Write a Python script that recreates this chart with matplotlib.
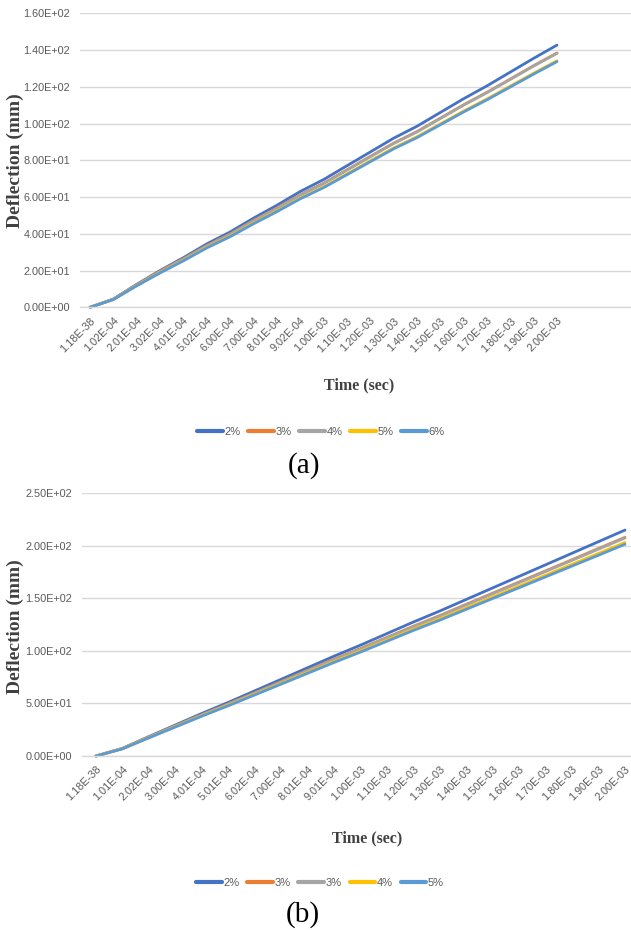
import matplotlib
matplotlib.use("Agg")
import matplotlib.pyplot as plt
from matplotlib.ticker import FormatStrFormatter

W, H = 631, 931
fig = plt.figure(figsize=(W / 100, H / 100), dpi=100)

colors = ["#4472C4", "#ED7D31", "#A5A5A5", "#FFC000", "#5B9BD5"]

# ---------------- data (a) ----------------
labels_a = ["1.18E-38", "1.02E-04", "2.01E-04", "3.02E-04", "4.01E-04", "5.02E-04",
            "6.00E-04", "7.00E-04", "8.01E-04", "9.02E-04", "1.00E-03", "1.10E-03",
            "1.20E-03", "1.30E-03", "1.40E-03", "1.50E-03", "1.60E-03", "1.70E-03",
            "1.80E-03", "1.90E-03", "2.00E-03"]
series_names_a = ["2%", "3%", "4%", "5%", "6%"]
a_2 = [0, 4.5, 12.5, 20.0, 27.0, 34.5, 41.0, 48.5, 55.5, 63.0, 69.5, 77.0, 84.5, 92.0,
       98.5, 106.0, 113.5, 120.5, 128.0, 135.5, 142.7]
a_3 = [0, 4.4, 12.2, 19.6, 26.4, 33.6, 39.9, 47.2, 54.0, 61.2, 67.5, 74.8, 82.1, 89.3,
       95.6, 102.9, 110.2, 117.0, 124.2, 131.5, 138.4]
a_4 = [0, 4.4, 12.1, 19.4, 26.2, 33.4, 39.7, 47.0, 53.8, 61.0, 67.3, 74.6, 81.9, 89.1,
       95.4, 102.7, 110.0, 116.8, 124.0, 131.3, 138.2]
a_5 = [0, 4.2, 11.8, 18.9, 25.5, 32.6, 38.7, 45.8, 52.4, 59.4, 65.5, 72.6, 79.7, 86.7,
       92.8, 99.8, 106.8, 113.4, 120.4, 127.4, 134.2]
a_6 = [0, 4.2, 11.7, 18.7, 25.3, 32.3, 38.4, 45.4, 52.0, 59.0, 65.1, 72.1, 79.2, 86.2,
       92.3, 99.3, 106.3, 112.9, 119.9, 126.9, 133.7]
yticks_a = [0, 20, 40, 60, 80, 100, 120, 140, 160]

# ---------------- data (b) ----------------
labels_b = ["1.18E-38", "1.01E-04", "2.02E-04", "3.00E-04", "4.01E-04", "5.01E-04",
            "6.02E-04", "7.00E-04", "8.01E-04", "9.01E-04", "1.00E-03", "1.10E-03",
            "1.20E-03", "1.30E-03", "1.40E-03", "1.50E-03", "1.60E-03", "1.70E-03",
            "1.80E-03", "1.90E-03", "2.00E-03"]
series_names_b = ["2%", "3%", "3%", "4%", "5%"]
b_1 = [0, 7.3, 18.5, 29.5, 40.5, 51.0, 62.0, 73.0, 84.0, 95.0, 105.5, 116.5, 127.5, 138.0,
       149.0, 160.0, 171.0, 182.0, 193.0, 204.0, 215.0]
b_2 = [0, 7.1, 18.0, 28.7, 39.3, 49.5, 60.1, 70.8, 81.5, 92.1, 102.3, 112.9, 123.5, 133.7,
       144.4, 155.0, 165.6, 176.2, 186.8, 197.5, 208.1]
b_3 = [0, 7.1, 17.9, 28.5, 39.1, 49.2, 59.8, 70.4, 81.1, 91.7, 101.8, 112.4, 123.0, 133.2,
       143.8, 154.4, 165.0, 175.6, 186.2, 196.9, 207.5]
b_4 = [0, 6.9, 17.5, 27.9, 38.3, 48.4, 58.7, 69.1, 79.5, 89.9, 99.9, 110.3, 120.7, 130.6,
       141.0, 151.4, 161.8, 172.1, 182.5, 192.8, 203.2]
b_5 = [0, 6.8, 17.3, 27.6, 37.9, 47.8, 58.1, 68.4, 78.7, 89.0, 98.9, 109.2, 119.5, 129.3,
       139.6, 149.9, 160.2, 170.5, 180.8, 191.1, 201.5]
yticks_b = [0, 50, 100, 150, 200, 250]

narrow = ["Liberation Sans Narrow", "Liberation Sans", "DejaVu Sans"]
serif = ["Liberation Serif", "DejaVu Serif"]
tick_color = "#595959"
grid_color = "#D9D9D9"


def px_axes(left, top, right, bottom):
    return fig.add_axes([left / W, 1 - bottom / H, (right - left) / W, (bottom - top) / H])


def make_panel(ax, labels, series, names, yticks, x0_px, x20_px, left_px, right_px,
               ylabel_xy, xlabel_xy, legend_xy, tag, tag_xy):
    x = list(range(len(labels)))
    for vals, name, c in zip(series, names, colors):
        ax.plot(x, vals, color=c, lw=2.0, label=name, solid_capstyle="round", clip_on=False)
    step = (x20_px - x0_px) / (len(labels) - 1)
    ax.set_xlim(-(x0_px - left_px) / step, (len(labels) - 1) + (right_px - x20_px) / step)
    ax.set_ylim(yticks[0], yticks[-1])
    ax.set_yticks(yticks)
    ax.yaxis.set_major_formatter(FormatStrFormatter("%.2E"))
    ax.set_xticks(x)
    ax.set_xticklabels(labels, rotation=45, ha="right", va="top", rotation_mode="anchor")
    for lab in ax.get_xticklabels() + ax.get_yticklabels():
        lab.set_family(narrow)
        lab.set_fontsize(7.8)
        lab.set_color(tick_color)
    ax.tick_params(axis="both", length=0)
    ax.tick_params(axis="y", pad=7)
    ax.tick_params(axis="x", pad=6)
    ax.grid(axis="y", color=grid_color, lw=1.0)
    ax.set_axisbelow(True)
    for s in ["top", "right", "left"]:
        ax.spines[s].set_visible(False)
    ax.spines["bottom"].set_color(grid_color)
    ax.spines["bottom"].set_linewidth(1.0)
    fig.text(ylabel_xy[0] / W, 1 - ylabel_xy[1] / H, "Deflection (mm)", rotation=90,
             ha="center", va="center", family=serif, weight="bold", fontsize=14,
             color="#404040")
    fig.text(xlabel_xy[0] / W, 1 - xlabel_xy[1] / H, "Time (sec)", ha="center", va="center",
             family=serif, weight="bold", fontsize=11.5, color="#404040")
    handles, labs = ax.get_legend_handles_labels()
    leg = fig.legend(handles, labs, loc="center", ncol=5,
                     bbox_to_anchor=(legend_xy[0] / W, 1 - legend_xy[1] / H),
                     frameon=False, handlelength=2.3, handletextpad=0.15,
                     columnspacing=0.7, prop={"family": narrow, "size": 8})
    for t in leg.get_texts():
        t.set_color(tick_color)
    for ln in leg.get_lines():
        ln.set_linewidth(3.0)
    fig.text(tag_xy[0] / W, 1 - tag_xy[1] / H, tag, ha="center", va="center",
             family=serif, fontsize=21, color="black")


ax_a = px_axes(80, 13.3, W, 307.3)
make_panel(ax_a, labels_a, [a_2, a_3, a_4, a_5, a_6], series_names_a, yticks_a,
           90, 557, 80, W, (15, 161), (359, 385), (321, 432), "(a)", (304, 466))

ax_b = px_axes(81.7, 493.3, W, 756)
make_panel(ax_b, labels_b, [b_1, b_2, b_3, b_4, b_5], series_names_b, yticks_b,
           96, 625, 81.7, W, (15, 627), (367, 838), (320, 883), "(b)", (303, 915))

fig.savefig("out.png", dpi=100, facecolor="white")
